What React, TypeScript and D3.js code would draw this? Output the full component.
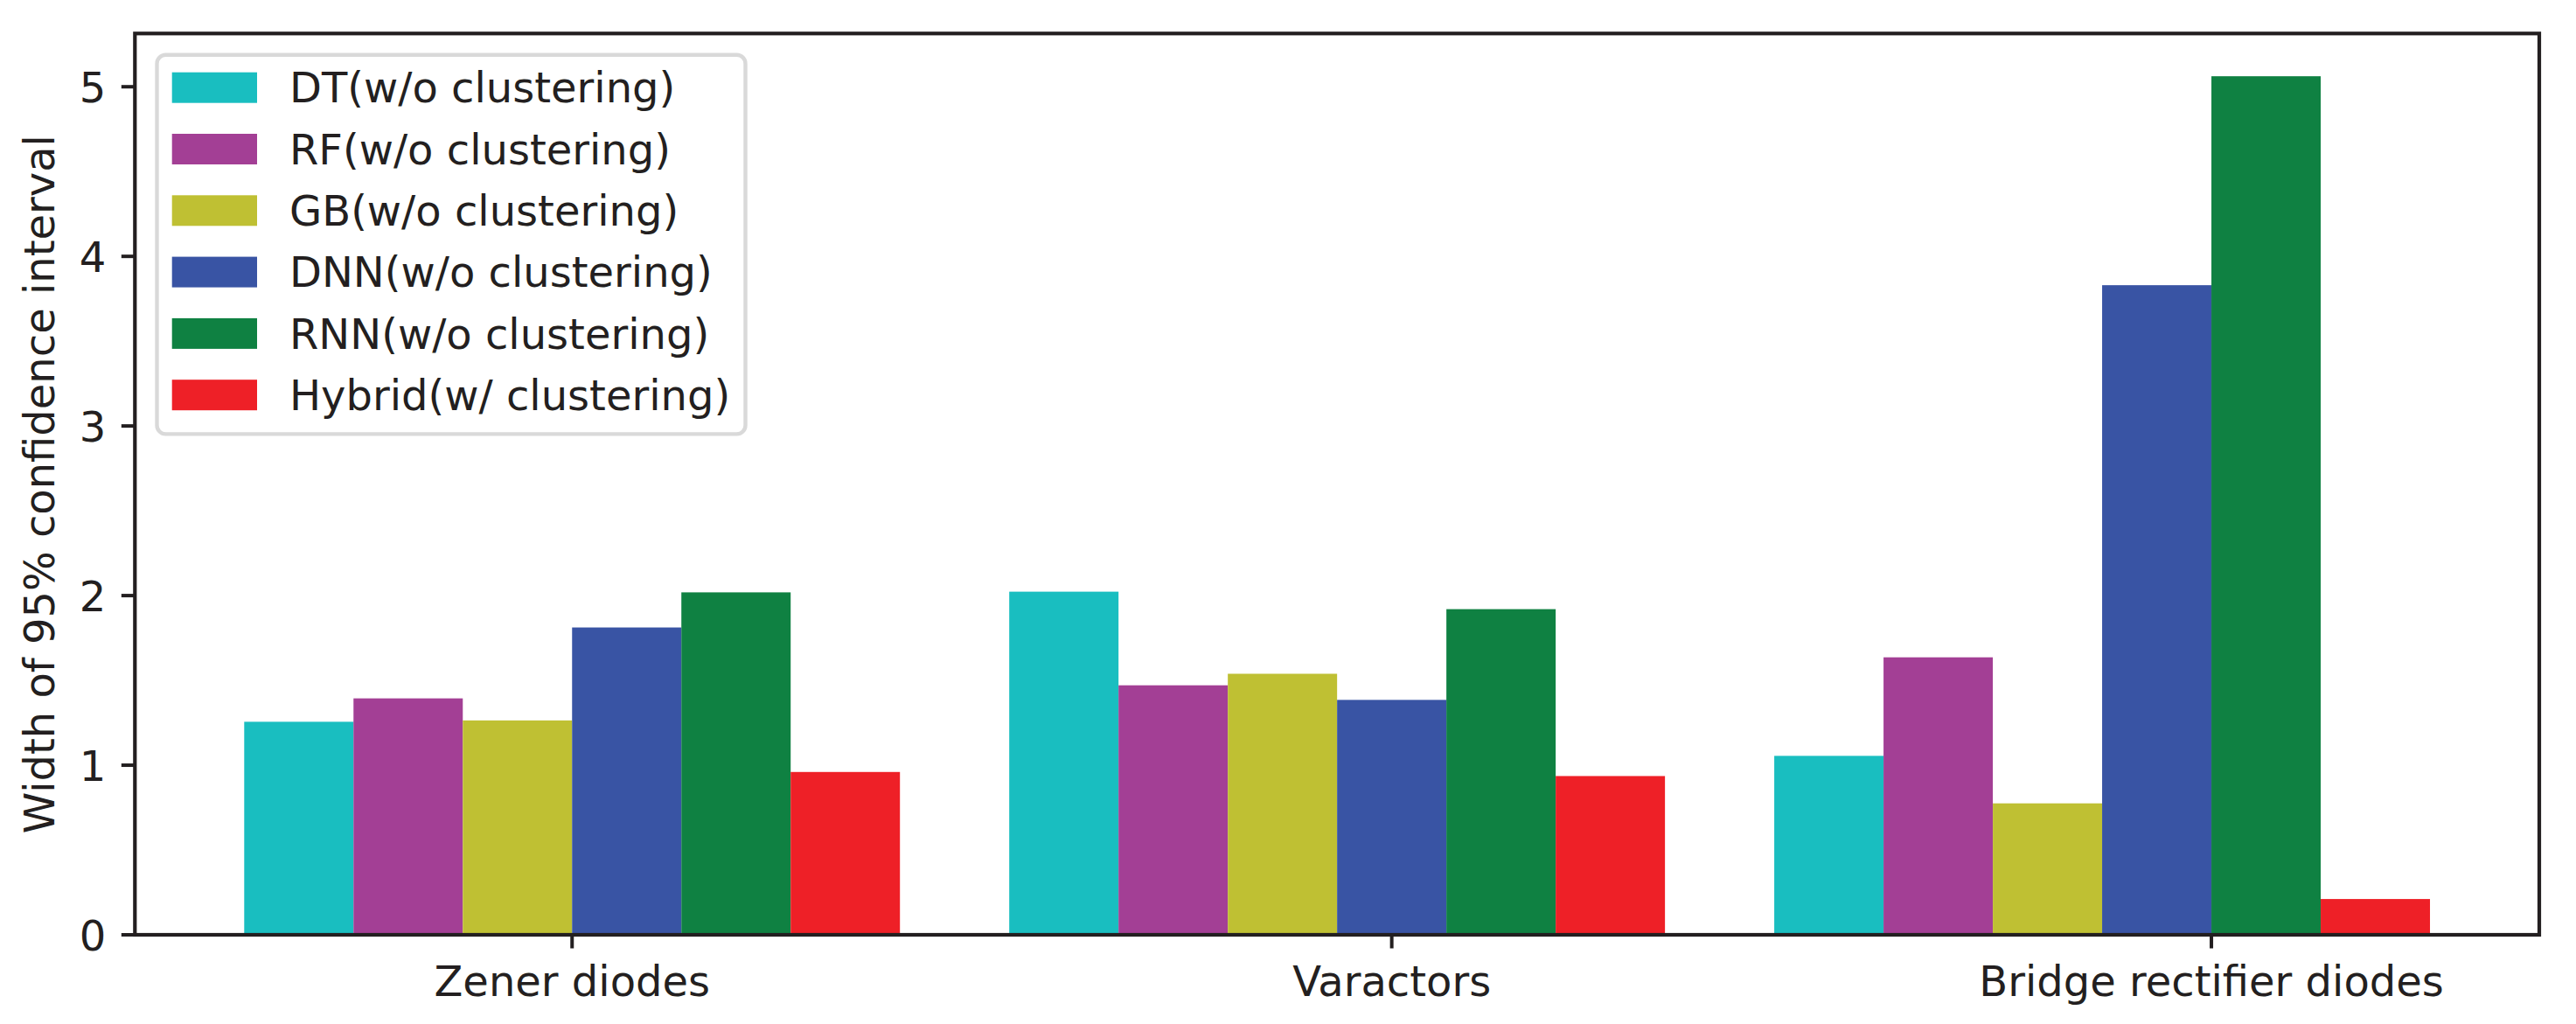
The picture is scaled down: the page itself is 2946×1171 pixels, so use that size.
import React from "react";
import * as d3 from "d3";

const categories = ["Zener diodes", "Varactors", "Bridge rectifier diodes"];
const seriesNames = [
  "DT(w/o clustering)",
  "RF(w/o clustering)",
  "GB(w/o clustering)",
  "DNN(w/o clustering)",
  "RNN(w/o clustering)",
  "Hybrid(w/ clustering)",
];
const seriesColors = ["#19bec0", "#a33f95", "#bfc033", "#3954a4", "#0f8142", "#ee2027"];
const zenerValues = [1.256, 1.394, 1.264, 1.812, 2.019, 0.96];
const varactorValues = [2.023, 1.471, 1.539, 1.385, 1.92, 0.936];
const bridgeValues = [1.055, 1.636, 0.775, 3.83, 5.062, 0.211];
const groupValues = [zenerValues, varactorValues, bridgeValues];
const yTicks = [0, 1, 2, 3, 4, 5];
const yLabel = "Width of 95% confidence interval";

const W = 2946;
const H = 1171;
const LEFT = 154.3;
const RIGHT = 2904;
const TOP = 38.3;
const BOTTOM = 1069;
const FONT = "DejaVu Sans, sans-serif";
const FS = 48;
const INK = "#231f20";

export default function App() {
  const x = d3.scaleLinear().domain([-1, 21]).range([LEFT, RIGHT]);
  const y = d3.scaleLinear().domain([0, 5.314]).range([BOTTOM, TOP]);
  const tickPos = categories.map((_, g) => g * 7.5 + 3);

  const legendX = 179.5;
  const legendY = 62.7;
  const rowGap = 70.3;

  return (
    <svg
      width={W}
      height={H}
      style={{ position: "absolute", left: 0, top: 0, background: "#fff" }}
      fontFamily={FONT}
    >
      <rect x={0} y={0} width={W} height={H} fill="#fff" />
      {groupValues.map((vals, g) =>
        vals.map((v, i) => {
          const u = g * 7 + i;
          return (
            <rect
              key={`${g}-${i}`}
              x={x(u)}
              y={y(v)}
              width={x(u + 1) - x(u)}
              height={y(0) - y(v)}
              fill={seriesColors[i]}
            />
          );
        })
      )}
      {/* spines */}
      <rect x={LEFT} y={TOP} width={RIGHT - LEFT} height={BOTTOM - TOP} fill="none" stroke={INK} strokeWidth={4.2} strokeLinejoin="miter" />
      {/* y ticks */}
      {yTicks.map((t) => (
        <g key={t}>
          <line x1={LEFT - 15.5} x2={LEFT} y1={y(t)} y2={y(t)} stroke={INK} strokeWidth={4} />
          <text x={LEFT - 33} y={y(t) + 17.5} textAnchor="end" fontSize={FS} fill={INK}>
            {t}
          </text>
        </g>
      ))}
      {/* x ticks */}
      {categories.map((c, g) => (
        <g key={c}>
          <line x1={x(tickPos[g])} x2={x(tickPos[g])} y1={BOTTOM} y2={BOTTOM + 15.5} stroke={INK} strokeWidth={4} />
          <text x={x(tickPos[g])} y={BOTTOM + 70} textAnchor="middle" fontSize={FS} fill={INK}>
            {c}
          </text>
        </g>
      ))}
      {/* y label */}
      <text
        transform={`translate(62, ${(TOP + BOTTOM) / 2}) rotate(-90)`}
        textAnchor="middle"
        fontSize={FS}
        fill={INK}
      >
        {yLabel}
      </text>
      {/* legend */}
      <rect
        x={legendX}
        y={legendY}
        width={852.5 - legendX}
        height={496.4 - legendY}
        rx={10}
        ry={10}
        fill="#fff"
        fillOpacity={0.8}
        stroke="#d9d9d9"
        strokeWidth={4.4}
      />
      {seriesNames.map((s, i) => (
        <g key={s}>
          <rect x={196.7} y={82.7 + i * rowGap} width={97.3} height={35} fill={seriesColors[i]} />
          <text x={331} y={117.3 + i * rowGap} fontSize={FS} fill={INK}>
            {s}
          </text>
        </g>
      ))}
    </svg>
  );
}
